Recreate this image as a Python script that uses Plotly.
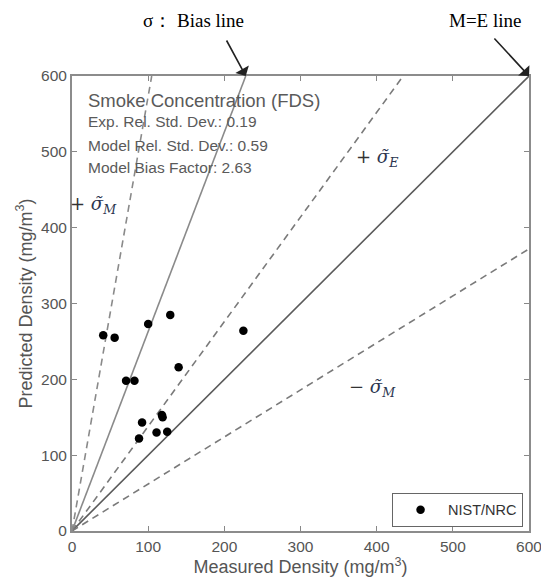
import plotly.graph_objects as go

# ---- data ----
measured = [41, 56, 100, 129, 225, 71, 82, 140, 118, 119, 92, 111, 125, 88]
predicted = [258, 255, 273, 285, 264, 198, 198, 216, 153, 150, 143, 130, 131, 122]
exp_rel_std = 0.19
model_rel_std = 0.59
bias_factor = 2.63
axis_max = 600
ticks = [0, 100, 200, 300, 400, 500, 600]

OFF = 8  # page body margin
W, H = 549 - OFF, 582 - OFF
L, R, T, B = 72 - OFF, 20, 76 - OFF, 51
pw, ph = W - L - R, H - T - B

def line_pts(slope):
    xe = min(axis_max, axis_max / slope)
    return [0, xe], [0, slope * xe]

fig = go.Figure()

lines = [
    (1.0, "solid", "#5a5a5a", 1.6),
    (bias_factor, "solid", "#8a8a8a", 1.6),
    (1 + 2 * exp_rel_std, "7px,5px", "#7a7a7a", 1.6),
    (1 - 2 * exp_rel_std, "7px,5px", "#7a7a7a", 1.6),
    (bias_factor * (1 + 2 * model_rel_std), "7px,5px", "#8a8a8a", 1.6),
]
for s, dash, col, w in lines:
    xs, ys = line_pts(s)
    fig.add_trace(go.Scatter(x=xs, y=ys, mode="lines", showlegend=False,
                             line=dict(color=col, dash=dash, width=w), hoverinfo="skip"))

fig.add_trace(go.Scatter(x=measured, y=predicted, mode="markers", name="NIST/NRC",
                         marker=dict(color="black", size=8.5)))

def px2paper(px, py):
    # px, py are page-pixel coordinates of the reference picture
    return (px - OFF - L) / pw, (H - B - (py - OFF)) / ph

ann = []
box = [("Smoke Concentration (FDS)", 100, 18.5),
       (f"Exp. Rel. Std. Dev.: {exp_rel_std:.2f}", 122, 15.5),
       (f"Model Rel. Std. Dev.: {model_rel_std:.2f}", 145, 15.5),
       (f"Model Bias Factor: {bias_factor:.2f}", 167, 15.5)]
for txt, py, fs in box:
    x, y = px2paper(86, py)
    ann.append(dict(text=txt, x=x, y=y, xref="paper", yref="paper", xanchor="left",
                    yanchor="middle", showarrow=False,
                    font=dict(family="Liberation Sans, Arial", size=fs, color="#5a5a5a")))

sig_font = dict(family="DejaVu Serif", size=18, color="#2c3550")
def sig(sign, sub):
    return f"<span style='color:#333'>{sign}</span> <i>σ̃</i><sub><i>{sub}</i></sub>"
for txt, px, py in [(sig("+", "M"), 68, 205), (sig("+", "E"), 354, 158), (sig("−", "M"), 347, 388)]:
    x, y = px2paper(px, py)
    ann.append(dict(text=txt, x=x, y=y, xref="paper", yref="paper", xanchor="left",
                    yanchor="middle", showarrow=False, font=sig_font))

top_font = dict(family="Liberation Serif, Times New Roman", size=19, color="black")
for txt, px in [("σ： Bias line", 193), ("M=E line", 485)]:
    x, y = px2paper(px, 20)
    ann.append(dict(text=txt, x=x, y=y, xref="paper", yref="paper", xanchor="center",
                    yanchor="middle", showarrow=False, font=top_font))

# arrows pointing to line ends
ann.append(dict(text="", x=axis_max / bias_factor, y=axis_max, xref="x", yref="y",
                showarrow=True, ax=-20, ay=-37, arrowhead=1, arrowsize=1.6, arrowwidth=1.6,
                arrowcolor="#222222", standoff=0))
ann.append(dict(text="", x=axis_max, y=axis_max, xref="x", yref="y",
                showarrow=True, ax=-36, ay=-39, arrowhead=1, arrowsize=1.6, arrowwidth=1.6,
                arrowcolor="#222222", standoff=0))

axis_common = dict(range=[0, axis_max], tickvals=ticks, ticks="inside", ticklen=5,
                   tickcolor="#888888", showline=True, linecolor="#8c8c8c", linewidth=2,
                   mirror="ticks", showgrid=False, zeroline=False, automargin=False,
                   tickfont=dict(family="Liberation Sans, Arial", size=15.5, color="#555555"))

fig.update_layout(
    width=W, height=H, margin=dict(l=L, r=R, t=T, b=B),
    paper_bgcolor="white", plot_bgcolor="white",
    xaxis=dict(title=dict(text="Measured Density (mg/m<sup>3</sup>)", standoff=3,
                          font=dict(family="Liberation Sans, Arial", size=18, color="#555555")),
               ticklabelstandoff=0, **axis_common),
    yaxis=dict(title=dict(text="Predicted Density (mg/m<sup>3</sup>)", standoff=4,
                          font=dict(family="Liberation Sans, Arial", size=18, color="#555555")),
               ticklabelstandoff=0, **axis_common),
    legend=dict(x=0.987, y=0.009, xanchor="right", yanchor="bottom", bgcolor="white",
                bordercolor="#666666", borderwidth=1, itemwidth=45,
                font=dict(family="Liberation Sans, Arial", size=14.5, color="#333333")),
    annotations=ann,
)

fig.write_html("out.html")
